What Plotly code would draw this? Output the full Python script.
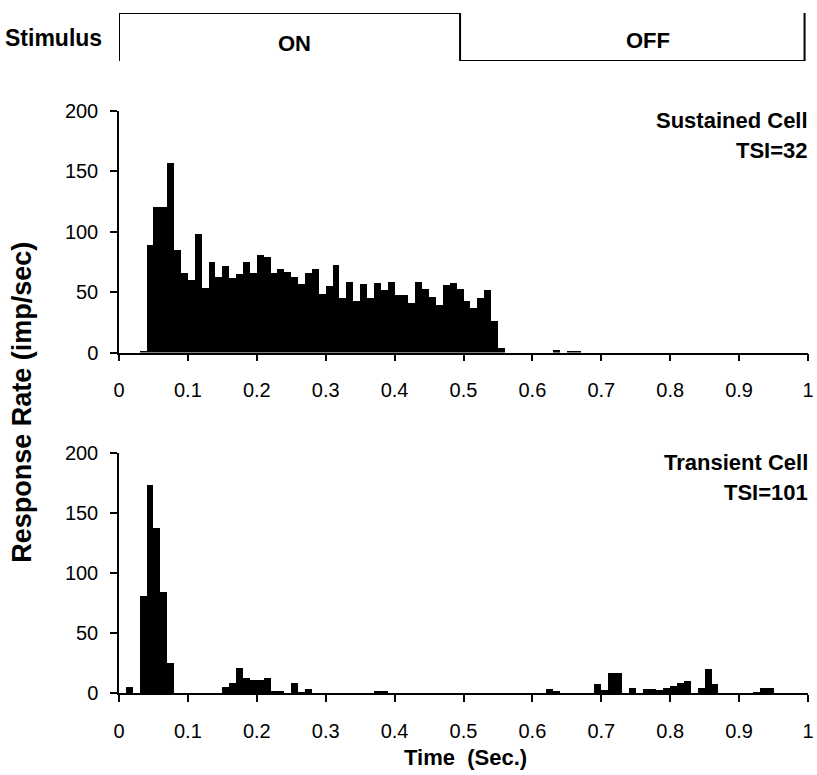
import plotly.graph_objects as go

# ---- data (10 ms bins, 0..1 s) ----
bin_width = 0.01
bin_centers = [round(0.005 + 0.01 * i, 3) for i in range(100)]

sustained_rate = [
    0, 0, 0, 1.5, 89, 121, 121, 157, 85, 66,
    60, 98, 54, 75, 63, 72, 62, 65, 75, 66,
    81, 79, 66, 69, 67, 63, 57, 66, 69, 49,
    55, 73, 45, 59, 43, 57, 45, 58, 52, 59,
    48, 48, 41, 59, 53, 46, 40, 56, 58, 53,
    43, 37, 45, 52, 26, 4, 0, 0, 0, 0,
    0, 0, 0, 2.5, 0, 1, 1, 0, 0, 0,
    0, 0, 0, 0, 0, 0, 0, 0, 0, 0,
    0, 0, 0, 0, 0, 0, 0, 0, 0, 0,
    0, 0, 0, 0, 0, 0, 0, 0, 0, 0,
]

transient_rate = [
    0, 5, 0, 81, 173, 138, 84, 25, 0, 0,
    0, 0, 0, 0, 0, 5, 9, 21, 13, 11,
    11, 13, 2, 2, 0, 9, 1.5, 4, 0, 0,
    0, 0, 0, 0, 0, 0, 0, 2, 2, 0,
    0, 0, 0, 0, 0, 0, 0, 0, 0, 0,
    0, 0, 0, 0, 0, 0, 0, 0, 0, 0,
    0, 0, 4, 2, 0, 0, 0, 0, 0, 8,
    2.5, 17, 17, 0, 4.5, 0, 4, 4, 3, 4.5,
    6, 9, 10, 0, 4.5, 20, 8, 0, 0, 0,
    0, 0, 1.5, 4.5, 4.5, 0, 0, 0, 0, 0,
]

stim_time = [0, 0, 0.495, 0.495, 0.995, 0.995]
stim_level = [0, 1, 1, 0, 0, 1]

x_ticks = [0, 0.1, 0.2, 0.3, 0.4, 0.5, 0.6, 0.7, 0.8, 0.9, 1]
x_tick_text = ["0", "0.1", "0.2", "0.3", "0.4", "0.5", "0.6", "0.7", "0.8", "0.9", "1"]
y_ticks = [0, 50, 100, 150, 200]

FONT = "Liberation Sans, Arial, sans-serif"

fig = go.Figure()

fig.add_trace(go.Bar(x=bin_centers, y=sustained_rate, width=bin_width,
                     marker=dict(color="black", line=dict(width=0)),
                     xaxis="x", yaxis="y", showlegend=False))
fig.add_trace(go.Bar(x=bin_centers, y=transient_rate, width=bin_width,
                     marker=dict(color="black", line=dict(width=0)),
                     xaxis="x2", yaxis="y2", showlegend=False))
fig.add_trace(go.Scatter(x=stim_time, y=stim_level, mode="lines",
                         line=dict(color="black", width=2),
                         xaxis="x3", yaxis="y3", showlegend=False,
                         cliponaxis=False))

xcommon = dict(range=[0, 1], tickvals=x_ticks, ticktext=x_tick_text,
               showline=True, linecolor="black", linewidth=1.5,
               ticks="outside", ticklen=7, tickwidth=1.5, tickcolor="black",
               showgrid=False, zeroline=False, ticklabelstandoff=12,
               automargin=False,
               tickfont=dict(family=FONT, size=20, color="black"))
ycommon = dict(range=[0, 200], tickvals=y_ticks,
               showline=True, linecolor="black", linewidth=1.5,
               ticks="outside", ticklen=7, tickwidth=1.5, tickcolor="black",
               showgrid=False, zeroline=False, ticklabelstandoff=8,
               automargin=False,
               tickfont=dict(family=FONT, size=20, color="black"))

fig.update_layout(
    width=817, height=775,
    margin=dict(l=119, r=9, t=8, b=81.7),
    paper_bgcolor="white", plot_bgcolor="white",
    bargap=0,
    font=dict(family=FONT, color="black"),
    xaxis=dict(domain=[0, 1], anchor="y", **xcommon),
    yaxis=dict(domain=[0.49701, 0.85014], anchor="x", **ycommon),
    xaxis2=dict(domain=[0, 1], anchor="y2", **xcommon),
    yaxis2=dict(domain=[0.0, 0.35109], anchor="x2", **ycommon),
    xaxis3=dict(domain=[0, 1], anchor="y3", range=[0, 1], visible=False, automargin=False),
    yaxis3=dict(domain=[0.92266, 0.99270], anchor="x3", range=[0, 1], visible=False, automargin=False),
)

ann = []
lab = dict(family=FONT, size=22, color="black")
ann.append(dict(text="<b>Sustained Cell</b>", x=1, y=192, xref="x", yref="y",
                xanchor="right", yanchor="middle", showarrow=False, font=lab, xshift=2))
ann.append(dict(text="<b>TSI=32</b>", x=1, y=167, xref="x", yref="y",
                xanchor="right", yanchor="middle", showarrow=False, font=lab, xshift=2))
ann.append(dict(text="<b>Transient Cell</b>", x=1, y=192, xref="x2", yref="y2",
                xanchor="right", yanchor="middle", showarrow=False, font=lab, xshift=2))
ann.append(dict(text="<b>TSI=101</b>", x=1, y=166.5, xref="x2", yref="y2",
                xanchor="right", yanchor="middle", showarrow=False, font=lab, xshift=2))
ann.append(dict(text="<b>ON</b>", x=0.254, y=0.36, xref="x3", yref="y3",
                xanchor="center", yanchor="middle", showarrow=False, font=lab))
ann.append(dict(text="<b>OFF</b>", x=0.768, y=0.42, xref="x3", yref="y3",
                xanchor="center", yanchor="middle", showarrow=False, font=lab))
ann.append(dict(text="<b>Stimulus</b>", x=-0.0218, y=0.47, xref="paper", yref="y3",
                xanchor="right", yanchor="middle", showarrow=False,
                font=dict(family=FONT, size=23, color="black")))
ann.append(dict(text="<b>Response Rate (imp/sec)</b>", x=-0.1408, y=0.4251,
                xref="paper", yref="paper", textangle=-90,
                xanchor="center", yanchor="middle", showarrow=False,
                font=dict(family=FONT, size=27, color="black")))
ann.append(dict(text="<b>Time  (Sec.)</b>", x=0.5036, y=-0.0935,
                xref="paper", yref="paper",
                xanchor="center", yanchor="middle", showarrow=False,
                font=dict(family=FONT, size=22, color="black")))
fig.update_layout(annotations=ann)

fig.write_html("out.html")
